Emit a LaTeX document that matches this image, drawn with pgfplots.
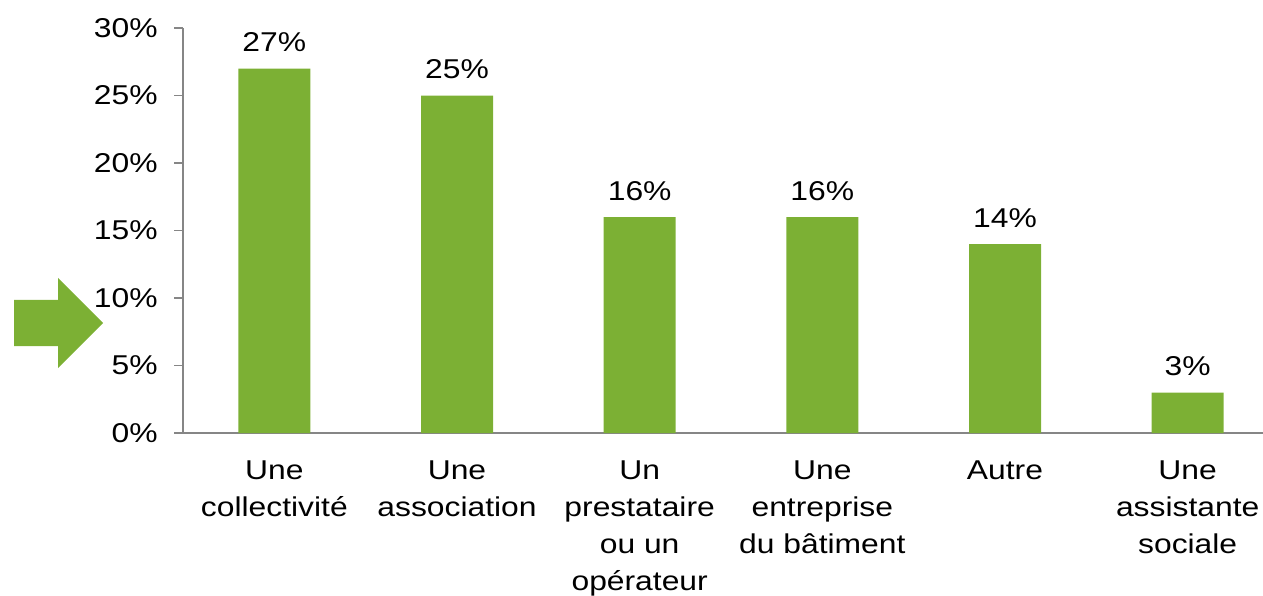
\documentclass[border=0pt]{standalone}
\usepackage{pgfplots}
\pgfplotsset{compat=1.18}
\usepackage{fontspec}
\setmainfont{Liberation Sans}[FakeStretch=1.17]
\definecolor{bargreen}{RGB}{124,176,52}
\definecolor{axgray}{RGB}{134,134,134}
\newcommand{\chartfont}{\fontsize{13.6}{18.5}\selectfont}
\begin{document}
\chartfont
\begin{tikzpicture}
\path[use as bounding box] (0pt,0pt) rectangle (631.5pt,297.5pt);
\fill[bargreen] (7pt,147.5pt) -- (29pt,147.5pt) -- (29pt,158.5pt) -- (51.5pt,136pt) -- (29pt,113.5pt) -- (29pt,124.5pt) -- (7pt,124.5pt) -- cycle;
\begin{axis}[
  at={(91.5pt,81pt)}, anchor=south west,
  scale only axis, width=548pt, height=202.5pt,
  ymin=0, ymax=30, xmin=-0.5, xmax=5.5,
  ybar, bar width=36pt,
  axis x line*=bottom, axis y line*=left,
  axis line style={axgray, line width=0.9pt},
  every tick/.style={axgray, line width=0.9pt},
  tick align=outside,
  ytick={0,5,...,30},
  yticklabels={0\%,5\%,10\%,15\%,20\%,25\%,30\%},
  major tick length=4.5pt,
  xtick={0,...,5},
  x tick style={draw=none},
  minor xtick={-0.5,0.5,...,5.5},
  minor x tick style={axgray, line width=0.9pt},
  minor tick length=5pt,
  xticklabels={Une\\collectivité,Une\\association,Un\\prestataire\\ou un\\opérateur,Une\\entreprise\\du bâtiment,Autre,Une\\assistante\\sociale},
  xticklabel style={align=center, anchor=north, inner sep=0pt, yshift=-9pt, font=\chartfont},
  yticklabel style={anchor=east, inner sep=0pt, xshift=-8pt, font=\chartfont},
  nodes near coords={\pgfmathprintnumber[assume math mode=true]{\pgfplotspointmeta}\%},
  every node near coord/.append style={anchor=south, inner sep=0pt, yshift=8pt, font=\chartfont, black},
  clip=false,
]
\addplot[fill=bargreen, draw=none] coordinates {(0,27) (1,25) (2,16) (3,16) (4,14) (5,3)};
\end{axis}
\end{tikzpicture}
\end{document}
